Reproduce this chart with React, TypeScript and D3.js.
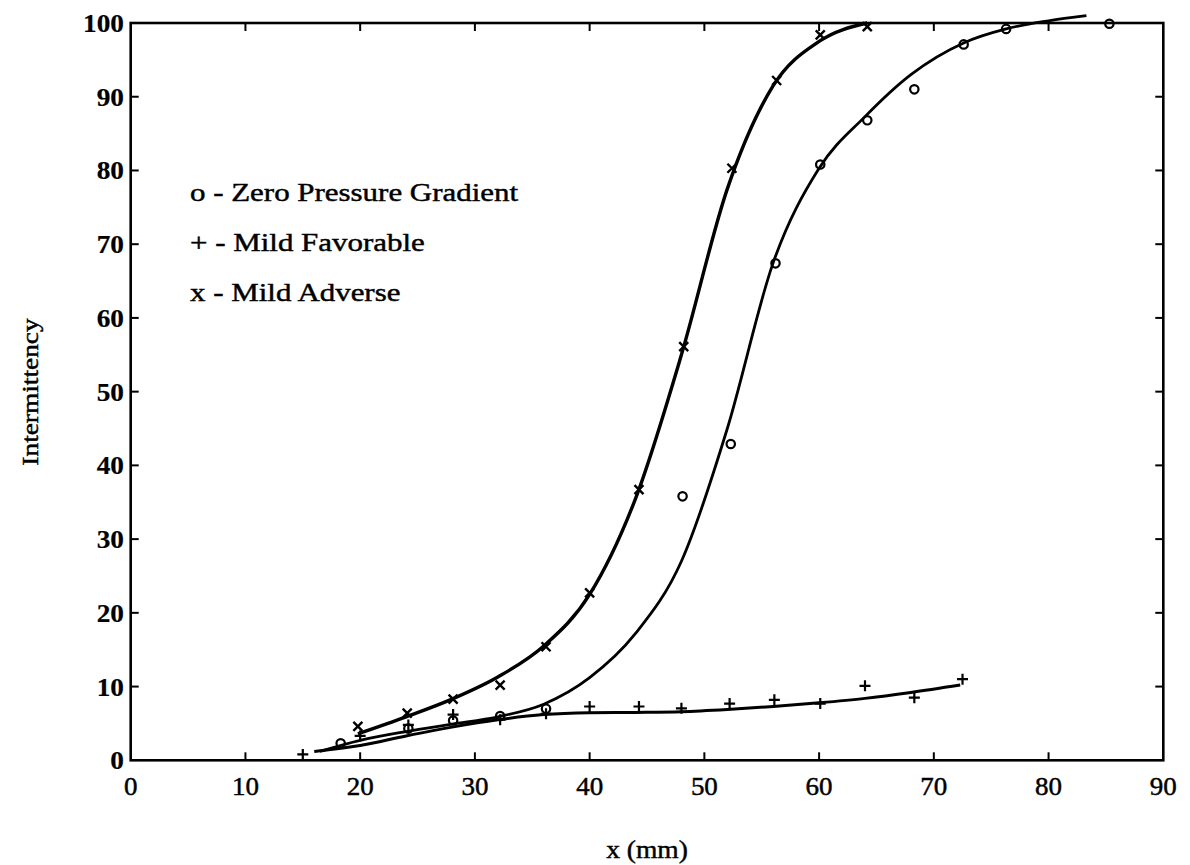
import React from "react";
import * as d3 from "d3";

// ---- data ----
const xTicks = [0, 10, 20, 30, 40, 50, 60, 70, 80, 90];
const yTicks = [0, 10, 20, 30, 40, 50, 60, 70, 80, 90, 100];

// o - Zero Pressure Gradient (measured points)
const zeroX = [18.3, 24.2, 28.1, 32.2, 36.2, 48.1, 52.3, 56.2, 60.1, 64.2, 68.3, 72.6, 76.3, 85.3];
const zeroY = [2.3, 4.3, 5.4, 6.0, 7.0, 35.8, 42.9, 67.4, 80.8, 86.8, 91.0, 97.1, 99.2, 99.9];
// + - Mild Favorable
const favX = [15.0, 20.0, 24.2, 28.1, 32.2, 36.2, 40.0, 44.3, 48.0, 52.2, 56.1, 60.1, 64.0, 68.3, 72.5];
const favY = [0.8, 3.3, 4.8, 6.2, 5.5, 6.3, 7.3, 7.3, 7.05, 7.7, 8.2, 7.7, 10.1, 8.5, 11.0];
// x - Mild Adverse
const advX = [19.8, 24.1, 28.1, 32.2, 36.2, 40.0, 44.3, 48.2, 52.4, 56.3, 60.1, 64.2];
const advY = [4.6, 6.4, 8.3, 10.2, 15.4, 22.7, 36.7, 56.1, 80.3, 92.2, 98.4, 99.5];

// fitted curves
const zeroFitX = [16.5, 20, 24, 28, 32, 36, 40, 44, 48, 52, 56, 60, 64, 68, 72.6, 76.3, 80, 83.3];
const zeroFitY = [1.2, 2.7, 3.9, 4.9, 5.9, 7.6, 11.2, 17.2, 27.0, 45.0, 67.5, 80.3, 87.3, 93.0, 97.3, 99.2, 100.3, 101.0];
const favFitX = [16, 20, 24, 28, 32, 36, 40, 44, 48, 52, 56, 60, 64, 68, 72.3];
const favFitY = [1.2, 2.0, 3.3, 4.5, 5.5, 6.2, 6.45, 6.5, 6.6, 6.9, 7.3, 7.8, 8.4, 9.2, 10.2];
const advFitX = [19.8, 24, 28, 32, 36, 40, 44, 48, 52, 56, 60, 64.2];
const advFitY = [3.6, 5.9, 8.3, 11.3, 15.5, 22.5, 35.5, 55.0, 77.5, 91.5, 97.5, 100.0];

const legendLabels = ["o - Zero Pressure Gradient", "+ - Mild Favorable", "x - Mild Adverse"];
const xTitle = "x (mm)";
const yTitle = "Intermittency";

const W = 1190;
const H = 865;
const FONT = "'Liberation Serif', 'Times New Roman', serif";

const T = ({ x, y, children, size = 23, sx = 1.2, anchor = "middle", weight = "normal", rot = 0 }: any) => (
  <text
    transform={`translate(${x},${y}) rotate(${rot}) scale(${sx},1)`}
    fontSize={size}
    fontFamily={FONT}
    fontWeight={weight}
    textAnchor={anchor}
    fill="#000"
    stroke="#000"
    strokeWidth={weight === "bold" ? 0.2 : 0.45}
  >
    {children}
  </text>
);

export default function App() {
  const x = d3.scaleLinear().domain([0, 90]).range([130.7, 1163.3]);
  const y = d3.scaleLinear().domain([0, 100]).range([760.3, 23]);

  const line = d3
    .line<[number, number]>()
    .x((d) => x(d[0]))
    .y((d) => y(d[1]))
    .curve(d3.curveMonotoneX);

  const zip = (a: number[], b: number[]) => a.map((v, i) => [v, b[i]] as [number, number]);

  const [x0, x1] = x.range();
  const [y0, y1] = y.range();
  const tl = 8;

  return (
    <svg width={W} height={H} style={{ position: "absolute", left: 0, top: 0, background: "#fff" }}>
      <rect width={W} height={H} fill="#fff" />
      {/* frame */}
      <rect x={x0} y={y1} width={x1 - x0} height={y0 - y1} fill="none" stroke="#000" strokeWidth={2.6} />
      {/* ticks */}
      {xTicks.slice(1, -1).map((t) => (
        <g key={"xt" + t}>
          <line x1={x(t)} x2={x(t)} y1={y0} y2={y0 - tl} stroke="#000" strokeWidth={2} />
          <line x1={x(t)} x2={x(t)} y1={y1} y2={y1 + tl} stroke="#000" strokeWidth={2} />
        </g>
      ))}
      {yTicks.slice(1, -1).map((t) => (
        <g key={"yt" + t}>
          <line x1={x0} x2={x0 + tl} y1={y(t)} y2={y(t)} stroke="#000" strokeWidth={2} />
          <line x1={x1} x2={x1 - tl} y1={y(t)} y2={y(t)} stroke="#000" strokeWidth={2} />
        </g>
      ))}
      {/* tick labels */}
      {xTicks.map((t) => (
        <T key={"xl" + t} x={x(t)} y={795} size={25} sx={1.08}>
          {t}
        </T>
      ))}
      {yTicks.map((t) => (
        <T key={"yl" + t} x={124} y={y(t) + 9} size={26} sx={1.05} anchor="end" weight="bold">
          {t}
        </T>
      ))}
      {/* titles */}
      <T x={647} y={858} size={25} sx={1.1}>
        {xTitle}
      </T>
      <T x={38} y={392} size={24} sx={1.14} rot={-90}>
        {yTitle}
      </T>
      {/* legend */}
      {legendLabels.map((s, i) => (
        <T key={"lg" + i} x={190} y={201 + i * 50} size={26} sx={1.19} anchor="start">
          {s}
        </T>
      ))}
      {/* fitted curves */}
      <path d={line(zip(zeroFitX, zeroFitY)) || ""} fill="none" stroke="#000" strokeWidth={2.8} />
      <path d={line(zip(favFitX, favFitY)) || ""} fill="none" stroke="#000" strokeWidth={3} />
      <path d={line(zip(advFitX, advFitY)) || ""} fill="none" stroke="#000" strokeWidth={3.4} />
      {/* markers */}
      {zeroX.map((v, i) => (
        <circle key={"zo" + i} cx={x(v)} cy={y(zeroY[i])} r={4.2} fill="none" stroke="#000" strokeWidth={2.2} />
      ))}
      {favX.map((v, i) => (
        <path
          key={"fa" + i}
          d={`M${x(v) - 5.5},${y(favY[i])}H${x(v) + 5.5}M${x(v)},${y(favY[i]) - 5.5}V${y(favY[i]) + 5.5}`}
          stroke="#000"
          strokeWidth={2.2}
        />
      ))}
      {advX.map((v, i) => (
        <path
          key={"ad" + i}
          d={`M${x(v) - 4.5},${y(advY[i]) - 4.5}L${x(v) + 4.5},${y(advY[i]) + 4.5}M${x(v) + 4.5},${y(advY[i]) - 4.5}L${x(v) - 4.5},${y(advY[i]) + 4.5}`}
          stroke="#000"
          strokeWidth={2.4}
        />
      ))}
    </svg>
  );
}
